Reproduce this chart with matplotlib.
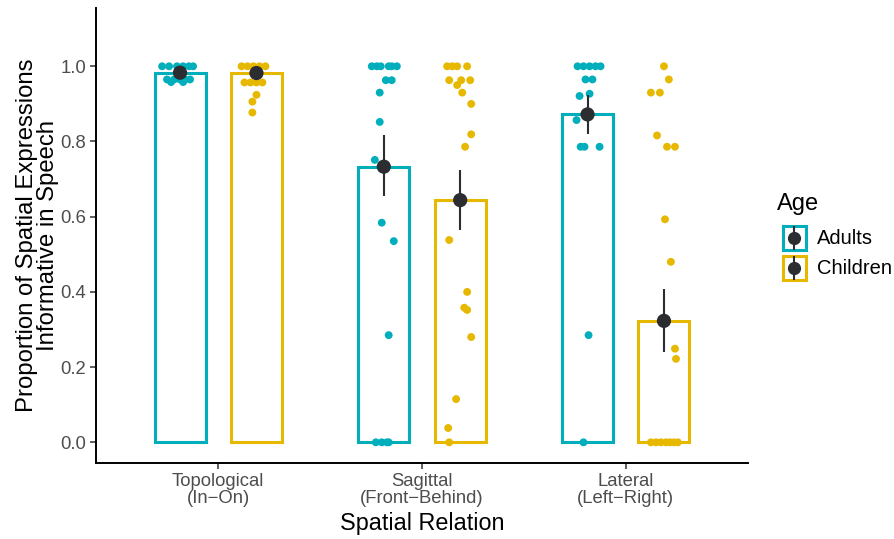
import matplotlib
matplotlib.use("Agg")
import matplotlib.pyplot as plt
from matplotlib.patches import Rectangle
from matplotlib.lines import Line2D
import numpy as np

plt.rcParams['font.family'] = ['Liberation Sans', 'DejaVu Sans']

# ---------------- data ----------------
categories = ["Topological\n(In\u2212On)", "Sagittal\n(Front\u2212Behind)", "Lateral\n(Left\u2212Right)"]
groups = ["Adults", "Children"]
colors = {"Adults": "#00AFBB", "Children": "#E7B800"}

mean_adults = [0.983, 0.733, 0.872]
mean_children = [0.982, 0.644, 0.323]
lo_adults = [0.975, 0.654, 0.821]
hi_adults = [0.991, 0.816, 0.923]
lo_children = [0.972, 0.564, 0.240]
hi_children = [0.992, 0.723, 0.407]

# individual points: y values and horizontal jitter (category units)
topo_adults_y = [1, 1, 1, 1, 1, 1, 0.965, 0.965, 0.965, 0.965, 0.965, 0.958, 0.958]
topo_adults_j = [-0.088, -0.054, -0.015, 0.015, 0.044, 0.064, -0.064, -0.029, 0.0, 0.024, 0.049, -0.044, 0.015]
topo_children_y = [1, 1, 1, 1, 1, 0.957, 0.957, 0.957, 0.957, 0.924, 0.906, 0.877]
topo_children_j = [-0.073, -0.044, -0.015, 0.015, 0.044, -0.059, -0.029, 0.0, 0.029, 0.0, -0.020, -0.020]

sag_adults_y = [1, 1, 1, 1, 1, 1, 0.963, 0.963, 0.930, 0.852, 0.751, 0.584, 0.535, 0.285, 0, 0, 0, 0]
sag_adults_j = [-0.059, -0.034, -0.015, 0.024, 0.039, 0.064, 0.010, 0.039, -0.020, -0.020, -0.044, -0.010, 0.049, 0.024, -0.039, -0.010, 0.015, 0.024]
sag_children_y = [1, 1, 1, 1, 0.963, 0.963, 0.963, 0.950, 0.930, 0.900, 0.819, 0.786, 0.538, 0.400, 0.358, 0.352, 0.280, 0.115, 0.038, 0]
sag_children_j = [-0.064, -0.039, -0.015, 0.034, -0.054, 0.005, 0.049, -0.015, 0.010, 0.054, 0.054, 0.024, -0.054, 0.034, 0.020, 0.034, 0.054, -0.020, -0.059, -0.054]

lat_adults_y = [1, 1, 1, 1, 1, 0.965, 0.965, 0.921, 0.927, 0.857, 0.786, 0.786, 0.786, 0.285, 0]
lat_adults_j = [-0.049, -0.020, 0.010, 0.039, 0.064, -0.010, 0.024, -0.039, 0.010, -0.054, -0.034, -0.015, 0.059, 0.005, -0.020]
lat_children_y = [1, 0.965, 0.930, 0.930, 0.816, 0.786, 0.786, 0.593, 0.480, 0.249, 0.222, 0, 0, 0, 0, 0, 0, 0]
lat_children_j = [0.0, 0.024, -0.064, -0.020, -0.034, 0.015, 0.054, 0.005, 0.034, 0.054, 0.059, -0.064, -0.039, -0.015, 0.010, 0.029, 0.049, 0.068]

points = {
    "Adults": [(topo_adults_j, topo_adults_y), (sag_adults_j, sag_adults_y), (lat_adults_j, lat_adults_y)],
    "Children": [(topo_children_j, topo_children_y), (sag_children_j, sag_children_y), (lat_children_j, lat_children_y)],
}
means = {"Adults": mean_adults, "Children": mean_children}
los = {"Adults": lo_adults, "Children": lo_children}
his = {"Adults": hi_adults, "Children": hi_children}

yticks = [0.0, 0.2, 0.4, 0.6, 0.8, 1.0]

# ---------------- figure ----------------
W, H = 895, 539
fig = plt.figure(figsize=(W / 100, H / 100), dpi=100)
ax = fig.add_axes([96 / W, (H - 463) / H, (748 - 96) / W, (463 - 8) / H])

dodge = 0.1875
bar_w = 0.25
x = np.arange(1, len(categories) + 1)
mean_col = "#2B2D30"

for gi, g in enumerate(groups):
    off = -dodge if gi == 0 else dodge
    xs = x + off
    ax.bar(xs, means[g], width=bar_w, facecolor="white", edgecolor=colors[g], linewidth=2.2, zorder=2)
    for ci, (jit, yv) in enumerate(points[g]):
        ax.scatter(xs[ci] + np.array(jit), yv, s=32, color=colors[g], edgecolors="none", zorder=3)
    ax.vlines(xs, los[g], his[g], color=mean_col, linewidth=1.5, zorder=4)
    ax.scatter(xs, means[g], s=105, color=mean_col, edgecolors="none", zorder=5)

ax.set_xlim(0.4, 3.6)
ax.set_ylim(-0.055, 1.155)
ax.set_xticks(x)
ax.set_xticklabels(categories, fontsize=13.3, color="#4D4D4D", linespacing=1.0)
ax.set_yticks(yticks)
ax.set_yticklabels([f"{v:.1f}" for v in yticks], fontsize=13.3, color="#4D4D4D")
ax.tick_params(axis="both", length=4, width=1.1, color="#333333", pad=3)

for s in ["top", "right"]:
    ax.spines[s].set_visible(False)
for s in ["left", "bottom"]:
    ax.spines[s].set_linewidth(1.4)
    ax.spines[s].set_color("black")

ax.set_xlabel("Spatial Relation", fontsize=16.8, labelpad=4)
ax.set_ylabel("Proportion of Spatial Expressions\nInformative in Speech", fontsize=17.2, labelpad=1, linespacing=0.95)

# ---------------- legend (manual) ----------------
def fx(px):
    return px / W

def fy(py):
    return 1 - py / H

fig.text(fx(777), fy(204), "Age", fontsize=17, va="center", ha="left")
for i, g in enumerate(groups):
    top = 226 + i * 30
    rect = Rectangle((fx(783), fy(top + 24)), fx(806) - fx(783), fy(top) - fy(top + 24),
                     transform=fig.transFigure, facecolor="white", edgecolor=colors[g], linewidth=2.2)
    fig.add_artist(rect)
    cx = fx(794.5)
    fig.add_artist(Line2D([cx, cx], [fy(top + 1), fy(top + 23)], transform=fig.transFigure,
                          color=mean_col, linewidth=1.5))
    fig.add_artist(Line2D([cx], [fy(top + 12)], transform=fig.transFigure, marker="o",
                          markersize=8.5, color=mean_col, linestyle="none"))
    fig.text(fx(817), fy(top + 12.5), g, fontsize=14.5, va="center", ha="left")

fig.savefig("out.png", dpi=100)
